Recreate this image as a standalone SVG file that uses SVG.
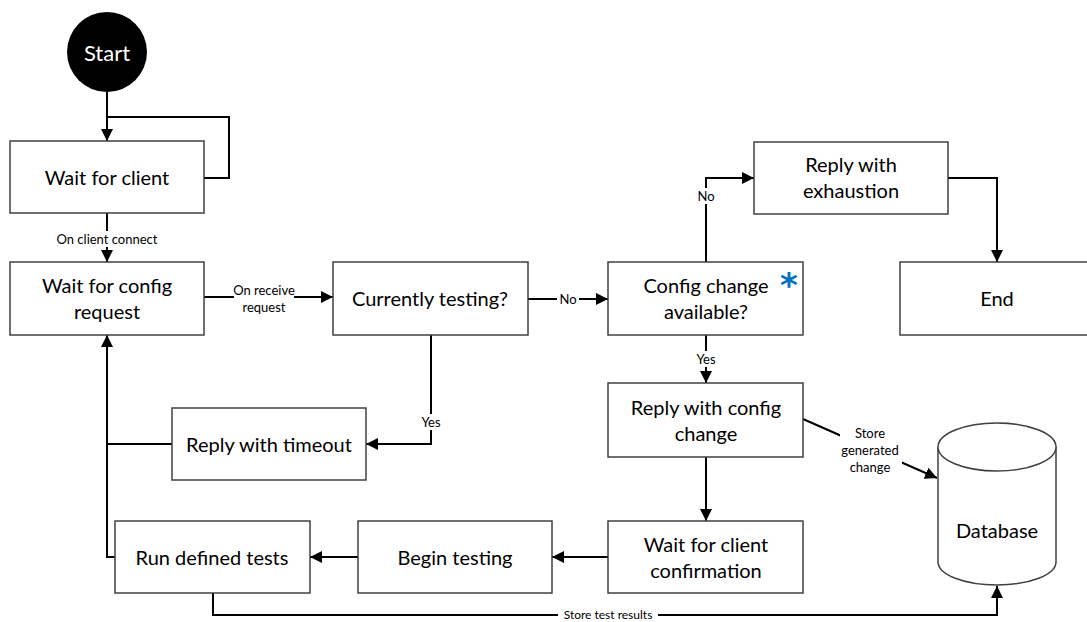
<svg xmlns="http://www.w3.org/2000/svg" width="1087" height="622" viewBox="0 0 1087 622">
<defs>
<marker id="arr" markerUnits="userSpaceOnUse" markerWidth="12" markerHeight="12" refX="12" refY="6" orient="auto">
<path d="M0,0 L12,6 L0,12 z" fill="#000"/>
</marker>
<style>
.box{fill:#fff;stroke:#404040;stroke-width:1.5}
.t{font-family:Lato,"Liberation Sans",sans-serif;font-size:20px;fill:#000;text-anchor:middle;dominant-baseline:central}
.lbl{font-family:Lato,"Liberation Sans",sans-serif;font-size:13px;fill:#000;text-anchor:middle;dominant-baseline:central}
.c{fill:none;stroke:#000;stroke-width:2}
.a{marker-end:url(#arr)}
.bg{fill:#fff}
</style>
</defs>
<rect width="1087" height="622" fill="#fff"/>
<g id="connectors">
<path class="c a" d="M107,92 V141"/>
<path class="c" d="M204,178 H229 V117 H107"/>
<path class="c a" d="M107,213 V262"/>
<path class="c a" d="M204,297 H333"/>
<path class="c a" d="M528,299 H608"/>
<path class="c a" d="M431,335 V444 H366"/>
<path class="c a" d="M706,335 V383"/>
<path class="c a" d="M706,262 V178 H754"/>
<path class="c a" d="M948,178 H997 V262"/>
<path class="c a" d="M706,457 V521"/>
<path class="c a" d="M608,557 H552"/>
<path class="c a" d="M358,557 H310"/>
<path class="c a" d="M115,557 H107 V335"/>
<path class="c" d="M172,444 H107"/>
<path class="c a" d="M803,419 L937,478"/>
<path class="c a" d="M213,593 V615 H997 V586"/>
<rect class="bg" x="54" y="231" width="106" height="16"/>
<text class="lbl" x="107" y="239">On client connect</text>
<rect class="bg" x="234" y="283" width="60" height="32"/>
<text class="lbl" x="264" y="290">On receive</text>
<text class="lbl" x="264" y="307">request</text>
<rect class="bg" x="557" y="291" width="22" height="16"/>
<text class="lbl" x="568" y="299">No</text>
<rect class="bg" x="418" y="414" width="26" height="16"/>
<text class="lbl" x="431" y="422">Yes</text>
<rect class="bg" x="693" y="351" width="26" height="16"/>
<text class="lbl" x="706" y="359">Yes</text>
<rect class="bg" x="695" y="188" width="22" height="16"/>
<text class="lbl" x="706" y="196">No</text>
<rect class="bg" x="840" y="424" width="62" height="52"/>
<text class="lbl" x="870" y="433">Store</text>
<text class="lbl" x="870" y="450">generated</text>
<text class="lbl" x="870" y="467">change</text>
<rect class="bg" x="558" y="608" width="100" height="14"/>
<text class="lbl" x="608" y="614" style="font-size:12px">Store test results</text>
</g>
<g id="start">
<circle cx="107" cy="52" r="40" fill="#000"/>
<text class="t" x="107" y="52" style="fill:#fff;font-size:22px">Start</text>
</g>
<g id="wait-client">
<rect class="box" x="10" y="141" width="194" height="72"/>
<text class="t" x="107" y="177">Wait for client</text>
</g>
<g id="wait-config">
<rect class="box" x="10" y="262" width="194" height="73"/>
<text class="t" x="107" y="285">Wait for config</text>
<text class="t" x="107" y="311">request</text>
</g>
<g id="currently-testing">
<rect class="box" x="333" y="262" width="195" height="73"/>
<text class="t" x="430" y="298">Currently testing?</text>
</g>
<g id="config-change">
<rect class="box" x="608" y="262" width="195" height="73"/>
<text class="t" x="706" y="285">Config change</text>
<text class="t" x="706" y="311">available?</text>
<text x="789" y="297" style="font-family:'DejaVu Sans',sans-serif;font-weight:bold;font-size:34px;fill:#0070C0;text-anchor:middle">*</text>
</g>
<g id="reply-exhaustion">
<rect class="box" x="754" y="142" width="194" height="72"/>
<text class="t" x="851" y="164">Reply with</text>
<text class="t" x="851" y="190">exhaustion</text>
</g>
<g id="end">
<rect class="box" x="900" y="262" width="194" height="73"/>
<text class="t" x="997" y="298">End</text>
</g>
<g id="reply-config">
<rect class="box" x="608" y="383" width="195" height="74"/>
<text class="t" x="706" y="407">Reply with config</text>
<text class="t" x="706" y="433">change</text>
</g>
<g id="reply-timeout">
<rect class="box" x="172" y="408" width="194" height="72"/>
<text class="t" x="269" y="444">Reply with timeout</text>
</g>
<g id="wait-confirmation">
<rect class="box" x="608" y="521" width="195" height="72"/>
<text class="t" x="706" y="544">Wait for client</text>
<text class="t" x="706" y="570">confirmation</text>
</g>
<g id="begin-testing">
<rect class="box" x="358" y="521" width="194" height="72"/>
<text class="t" x="455" y="557">Begin testing</text>
</g>
<g id="run-tests">
<rect class="box" x="115" y="521" width="195" height="72"/>
<text class="t" x="212" y="557">Run defined tests</text>
</g>
<g id="database">
<path class="box" d="M938,447 V562 A59,23 0 0 0 1056,562 V447"/>
<ellipse class="box" cx="997" cy="447" rx="59" ry="24"/>
<text class="t" x="997" y="530">Database</text>
</g>
</svg>
